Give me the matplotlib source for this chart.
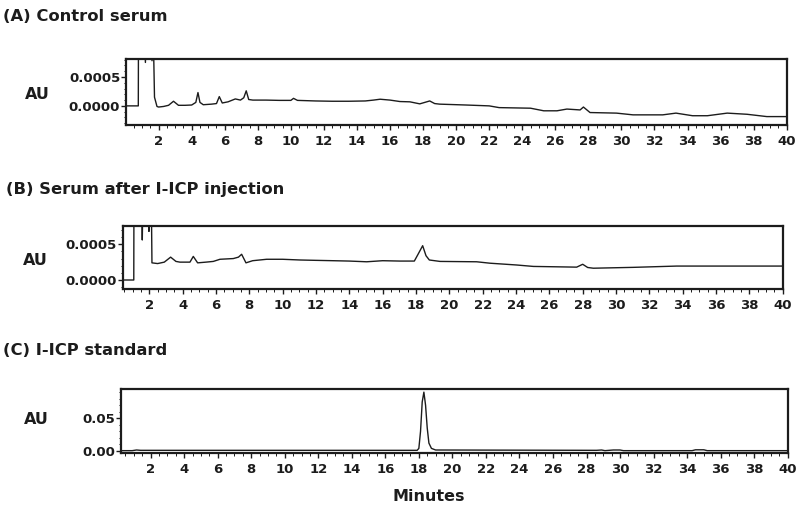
import numpy as np
import matplotlib
matplotlib.use("Agg")
import matplotlib.pyplot as plt
from matplotlib.ticker import MultipleLocator, FormatStrFormatter

# ---- data (minutes, AU) ----
a_min = [0.05, 0.77, 0.78, 1.15, 1.2, 1.25, 1.55, 1.6, 1.65, 1.68, 1.75, 1.9, 2.0,
         2.3, 2.6, 2.9, 3.2, 3.6, 4.0, 4.25, 4.38, 4.5, 4.7, 5.2, 5.5, 5.67, 5.85,
         6.2, 6.64, 6.95, 7.15, 7.3, 7.45, 7.7, 8.5, 9.3, 10.0, 10.16, 10.4, 11.5,
         12.5, 13.5, 14.5, 15.0, 15.4, 16.0, 16.6, 17.2, 17.8, 18.1, 18.4, 18.7,
         19.0, 20.6, 22.0, 22.6, 24.5, 25.3, 26.1, 26.7, 27.5, 27.7, 28.1, 29.7,
         30.7, 32.5, 33.3, 34.3, 35.2, 36.4, 37.6, 38.8, 40.0]
a_au = [0, 0, 12, 12, 7.5, 12, 12, 7.8, 12, 12, 1.5, -0.1, -0.2,
        -0.1, 0.1, 0.8, 0.1, 0.1, 0.15, 0.6, 2.3, 0.6, 0.2, 0.3, 0.4, 1.6, 0.5,
        0.7, 1.2, 1.0, 1.4, 2.6, 1.1, 1.0, 1.0, 0.95, 0.95, 1.3, 0.95, 0.85,
        0.8, 0.8, 0.85, 1.0, 1.15, 1.0, 0.75, 0.7, 0.35, 0.6, 0.85, 0.4,
        0.3, 0.15, 0.0, -0.3, -0.4, -0.85, -0.85, -0.55, -0.7, -0.2, -1.15, -1.25,
        -1.55, -1.55, -1.25, -1.7, -1.7, -1.25, -1.45, -1.85, -1.85]  # x1e-4

b_min = [0.44, 1.07, 1.08, 1.55, 1.58, 1.62, 1.95, 1.98, 2.02, 2.12, 2.16, 2.5,
         2.9, 3.28, 3.6, 3.84, 4.44, 4.64, 4.9, 5.4, 5.84, 6.24, 7.04, 7.35, 7.54,
         7.8, 8.2, 9.04, 10.0, 11.04, 12.0, 13.04, 14.0, 15.04, 16.0, 17.04, 17.9,
         18.1, 18.4, 18.6, 18.8, 19.44, 21.64, 22.44, 24.04, 25.04, 27.64, 28.0,
         28.3, 28.64, 31.04, 33.64, 34.64, 37.04, 40.0]
b_au = [0, 0, 12, 12, 5.6, 12, 12, 6.8, 12, 12, 2.4, 2.3,
        2.5, 3.2, 2.6, 2.5, 2.5, 3.3, 2.4, 2.5, 2.6, 2.9, 3.0, 3.2, 3.6,
        2.4, 2.7, 2.9, 2.9, 2.8, 2.75, 2.7, 2.65, 2.55, 2.7, 2.65, 2.65,
        3.5, 4.8, 3.4, 2.8, 2.6, 2.55, 2.35, 2.1, 1.9, 1.8, 2.2,
        1.75, 1.65, 1.77, 1.95, 1.95, 1.95, 1.95]  # x1e-4

c_min = [0.25, 0.9, 1.16, 1.4, 17.9, 18.0, 18.1, 18.2, 18.3, 18.4, 18.5, 18.6,
         18.75, 19.0, 28.6, 28.9, 29.1, 29.6, 30.0, 30.2, 34.3, 34.5, 35.0, 35.2, 40.0]
c_au = [0.0005, 0.0005, 0.0015, 0.001, 0.001, 0.004, 0.03, 0.075, 0.09, 0.07,
        0.035, 0.012, 0.004, 0.0015, 0.001, 0.0015, 0.0005, 0.0015, 0.0015,
        0.0005, 0.0005, 0.0018, 0.0018, 0.0005, 0.0005]

panels = [
    ("(A) Control serum", a_min, np.array(a_au) * 1e-4),
    ("(B) Serum after I-ICP injection", b_min, np.array(b_au) * 1e-4),
    ("(C) I-ICP standard", c_min, c_au),
]

plt.rcParams['font.family'] = ['DejaVu Sans']
plt.rcParams['font.weight'] = 'bold'

fig = plt.figure(figsize=(8, 5.05), dpi=100)

boxes = [[0.158, 0.7525, 0.8254, 0.1307],
         [0.1541, 0.4277, 0.8243, 0.1254],
         [0.1516, 0.1036, 0.833, 0.1261]]
xlims = [(0.05, 40), (0.44, 40), (0.25, 40)]
ylims = [(-0.00033, 0.00081), (-0.000126, 0.00076), (-0.0026, 0.0948)]
yticks = [[0, 0.0005], [0, 0.0005], [0, 0.05]]
yfmt = ['%.4f', '%.4f', '%.2f']
yminor = [0.0001, 0.0001, 0.01]
title_pos = [(0.004, 0.968), (0.0075, 0.625), (0.004, 0.3056)]
au_pos = [(0.047, 0.812), (0.044, 0.485), (0.046, 0.1697)]

ink = '#1c1c1c'
for i, (title, t, y) in enumerate(panels):
    ax = fig.add_axes(boxes[i])
    ax.plot(t, y, color=ink, lw=1.0)
    ax.set_xlim(*xlims[i])
    ax.set_ylim(*ylims[i])
    ax.xaxis.set_major_locator(MultipleLocator(2))
    ax.xaxis.set_minor_locator(MultipleLocator(0.5))
    ax.set_xticks(np.arange(2, 41, 2))
    ax.set_yticks(yticks[i])
    ax.yaxis.set_major_formatter(FormatStrFormatter(yfmt[i]))
    ax.yaxis.set_minor_locator(MultipleLocator(yminor[i]))
    for s in ax.spines.values():
        s.set_linewidth(1.6)
        s.set_color(ink)
    ax.tick_params(axis='both', which='major', direction='out', length=3.5,
                   width=1.0, color=ink, labelsize=9.5)
    ax.tick_params(axis='both', which='minor', direction='out', length=1.8,
                   width=0.7, color=ink)
    ax.tick_params(axis='x', pad=4)
    ax.tick_params(axis='y', pad=1)
    for lab in ax.get_xticklabels() + ax.get_yticklabels():
        lab.set_fontweight('bold')
        lab.set_color(ink)
    fig.text(title_pos[i][0], title_pos[i][1], title, fontsize=11.8,
             fontweight='bold', ha='left', va='center', color=ink)
    fig.text(au_pos[i][0], au_pos[i][1], "AU", fontsize=11.5,
             fontweight='bold', ha='center', va='center', color=ink)

fig.text(0.536, 0.0178, "Minutes", fontsize=11.5, fontweight='bold',
         ha='center', va='center', color=ink)

fig.savefig("out.png", dpi=100)
